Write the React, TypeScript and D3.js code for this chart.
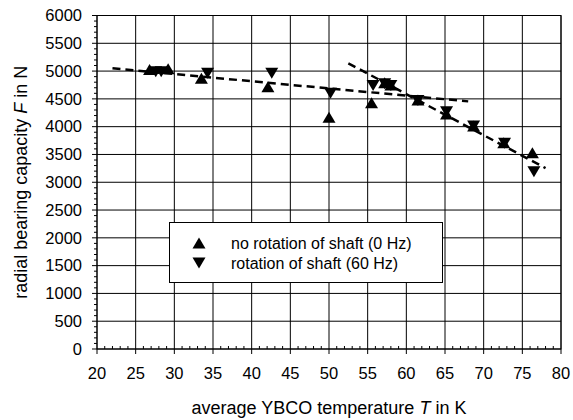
import * as d3 from 'd3';

const W = 573;
const H = 420;
const margin = { left: 97, right: 12, top: 15.5, bottom: 71 };

// average YBCO temperature in K / radial bearing capacity in N
const tempNoRot = [26.8, 29.2, 33.5, 42.1, 50.0, 55.5, 57.2, 58.0, 61.5, 65.2, 68.7, 72.6, 76.3];
const forceNoRot = [5030, 5040, 4870, 4720, 4170, 4430, 4790, 4750, 4480, 4230, 4010, 3710, 3530];
const tempRot = [27.6, 28.3, 34.3, 42.6, 50.2, 55.7, 57.2, 58.0, 61.5, 65.2, 68.7, 72.7, 76.5];
const forceRot = [4990, 4990, 4960, 4960, 4600, 4740, 4770, 4740, 4470, 4270, 4010, 3700, 3190];

// dashed trend lines, start and end points
const trendLow = [[22, 5050], [68, 4455]];
const trendHigh = [[52.5, 5140], [78, 3255]];

const xTicks = [20, 25, 30, 35, 40, 45, 50, 55, 60, 65, 70, 75, 80];
const yTicks = [0, 500, 1000, 1500, 2000, 2500, 3000, 3500, 4000, 4500, 5000, 5500, 6000];

const legendLabels = ['no rotation of shaft (0 Hz)', 'rotation of shaft (60 Hz)'];

const font = 'Arial, "Liberation Sans", sans-serif';
const upTri = 'M0,-5.5L6.5,5.5L-6.5,5.5Z';
const downTri = 'M0,5.5L6.5,-5.5L-6.5,-5.5Z';

export default function App() {
	const x = d3.scaleLinear().domain([20, 80]).range([margin.left, W - margin.right]);
	const y = d3.scaleLinear().domain([0, 6000]).range([H - margin.bottom, margin.top]);
	const line = d3.line<number[]>().x(d => x(d[0])).y(d => y(d[1]));

	const xMinor = d3.range(20, 81, 1).filter(v => v % 5 !== 0);
	const yMinor = d3.range(0, 6001, 100).filter(v => v % 500 !== 0);

	const x0 = x(20);
	const x1 = x(80);
	const y0 = y(0);
	const y1 = y(6000);

	return (
		<svg width={W} height={H} style={{ position: 'absolute', left: 0, top: 0, background: '#fff' }} fontFamily={font}>
			{/* grid */}
			<g stroke="#000" strokeWidth={1}>
				{xTicks.map(t => (
					<line key={'gx' + t} x1={x(t)} x2={x(t)} y1={y1} y2={y0 + 5} />
				))}
				{yTicks.map(t => (
					<line key={'gy' + t} x1={x0 - 5} x2={x1} y1={y(t)} y2={y(t)} />
				))}
				{xMinor.map(t => (
					<line key={'mx' + t} x1={x(t)} x2={x(t)} y1={y0} y2={y0 - 3} />
				))}
				{yMinor.map(t => (
					<line key={'my' + t} x1={x0 - 3} x2={x0} y1={y(t)} y2={y(t)} />
				))}
			</g>
			<rect x={x0} y={y1} width={x1 - x0} height={y0 - y1} fill="none" stroke="#000" />

			{/* tick labels */}
			<g fontSize={16.5} fill="#000">
				{xTicks.map(t => (
					<text key={'tx' + t} x={x(t)} y={y0 + 30} textAnchor="middle">
						{t}
					</text>
				))}
				{yTicks.map(t => (
					<text key={'ty' + t} x={x0 - 15} y={y(t)} dy="0.35em" textAnchor="end">
						{t}
					</text>
				))}
			</g>

			{/* axis titles */}
			<text x={(x0 + x1) / 2} y={414} textAnchor="middle" fontSize={18}>
				average YBCO temperature <tspan fontStyle="italic">T</tspan> in K
			</text>
			<text transform={`translate(27,${(y0 + y1) / 2}) rotate(-90)`} textAnchor="middle" fontSize={18}>
				radial bearing capacity <tspan fontStyle="italic">F</tspan> in N
			</text>

			{/* trend lines */}
			<g fill="none" stroke="#000" strokeWidth={2.5} strokeDasharray="8,5">
				<path d={line(trendLow) ?? ''} />
				<path d={line(trendHigh) ?? ''} />
			</g>

			{/* points */}
			<g fill="#000">
				{tempNoRot.map((t, i) => (
					<path key={'u' + i} d={upTri} transform={`translate(${x(t)},${y(forceNoRot[i])})`} />
				))}
				{tempRot.map((t, i) => (
					<path key={'d' + i} d={downTri} transform={`translate(${x(t)},${y(forceRot[i])})`} />
				))}
			</g>

			{/* legend */}
			<g>
				<rect x={169.5} y={222.5} width={273} height={60} fill="#fff" stroke="#000" />
				<path d={upTri} transform="translate(199,243)" fill="#000" />
				<path d={downTri} transform="translate(199,263)" fill="#000" />
				<text x={231} y={243} dy="0.35em" fontSize={16}>
					{legendLabels[0]}
				</text>
				<text x={231} y={263} dy="0.35em" fontSize={16}>
					{legendLabels[1]}
				</text>
			</g>
		</svg>
	);
}
